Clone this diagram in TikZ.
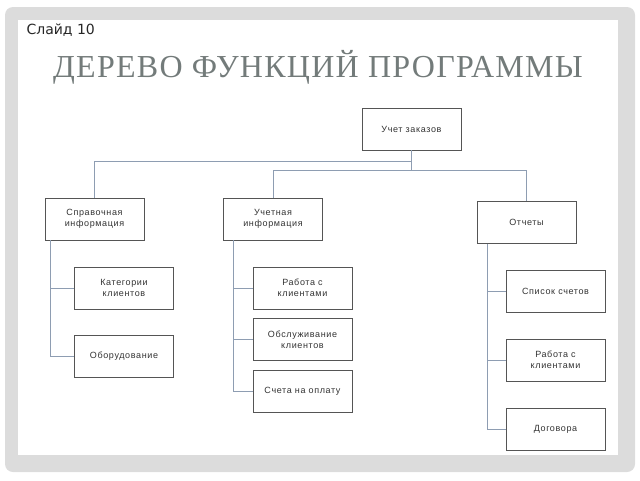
\documentclass[tikz,border=0pt]{standalone}
\usepackage{fontspec}
\setmainfont{Liberation Sans}
\newfontfamily\boxfont[LetterSpace=7]{Liberation Sans}
\newfontfamily\titlefont[LetterSpace=4]{Liberation Serif}
\newfontfamily\numfont{DejaVu Sans}
\definecolor{framegray}{HTML}{DCDCDC}
\definecolor{titlegray}{HTML}{737B7A}
\definecolor{linkblue}{HTML}{8E9DB2}
\definecolor{boxedge}{HTML}{555555}
\tikzset{
  func/.style={draw=boxedge, line width=0.8pt, minimum width=99pt, minimum height=42pt,
    align=center, text=black!80, font=\boxfont\fontsize{9}{11}\selectfont},
  link/.style={draw=linkblue, line width=0.8pt}
}
\begin{document}
\begin{tikzpicture}[x=1pt, y=-1pt]
            \useasboundingbox (0,0) rectangle (640,480);

            % Slide frame
            \fill[framegray, rounded corners=8pt] (5,7) rectangle (635,472);
            \fill[white] (18,20) rectangle (618,455);

            % Slide number and title
            \node[anchor=base west, font=\numfont\fontsize{14}{16}\selectfont, text=black!85] (num) at (23,34) {Слайд 10};
            \node[anchor=base, font=\titlefont\fontsize{32}{36}\selectfont, text=titlegray] (title) at (318,77) {ДЕРЕВО ФУНКЦИЙ ПРОГРАММЫ};

            % Root
            \node[func] (root) at (411.5,129) {Учет заказов};

            % First level
            \node[func] (sprav) at (94.5,219) {Справочная\\информация};
            \node[func] (uchet) at (273,219) {Учетная\\информация};
            \node[func] (otch) at (526.5,222.5) {Отчеты};

            % Second level
            \node[func] (kat) at (124,288) {Категории\\клиентов};
            \node[func] (obor) at (124,356.5) {Оборудование};
            \node[func] (rab1) at (302.5,288) {Работа с\\клиентами};
            \node[func] (obsl) at (302.5,339.5) {Обслуживание\\клиентов};
            \node[func] (sch) at (302.5,391.5) {Счета на оплату};
            \node[func] (spis) at (555.5,291.5) {Список счетов};
            \node[func] (rab2) at (555.5,360) {Работа с\\клиентами};
            \node[func] (dog) at (555.5,429) {Договора};

            % Links from root
            \draw[link] (root.south) -- ++(0,11) -| (sprav.north);
            \draw[link] (root.south) -- ++(0,20) -| (uchet.north);
            \draw[link] (root.south) -- ++(0,20) -| (otch.north);

            % Links to second level
            \draw[link] ([xshift=6pt]sprav.south west) |- (kat.west);
            \draw[link] ([xshift=6pt]sprav.south west) |- (obor.west);
            \draw[link] ([xshift=10pt]uchet.south west) |- (rab1.west);
            \draw[link] ([xshift=10pt]uchet.south west) |- (obsl.west);
            \draw[link] ([xshift=10pt]uchet.south west) |- (sch.west);
            \draw[link] ([xshift=11pt]otch.south west) |- (spis.west);
            \draw[link] ([xshift=11pt]otch.south west) |- (rab2.west);
            \draw[link] ([xshift=11pt]otch.south west) |- (dog.west);

        \end{tikzpicture}
\end{document}
